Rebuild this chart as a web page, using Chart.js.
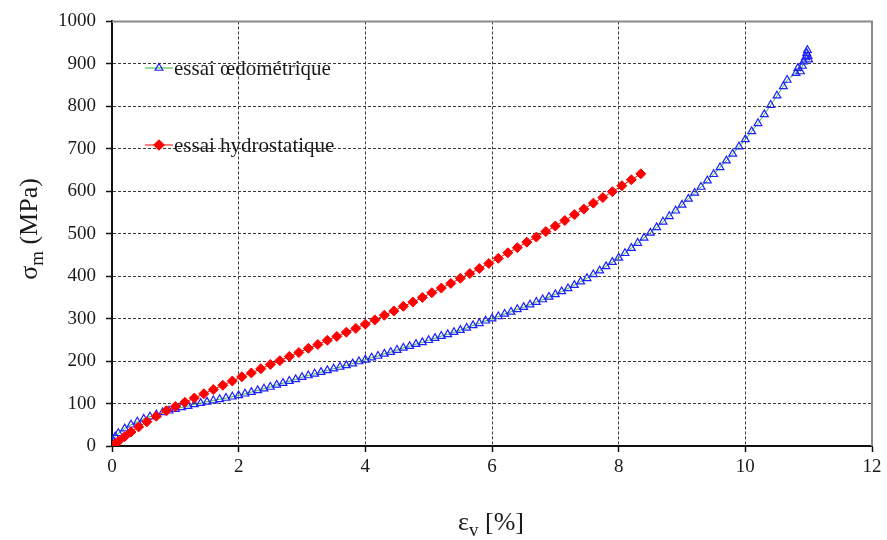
<!DOCTYPE html>
<html lang="fr">
<head>
    <meta charset="UTF-8">
    <title>Essais de compression</title>
    <script src="https://cdn.jsdelivr.net/npm/chart.js"></script>
    <style>
        body {
            margin: 0;
            background-color: #ffffff;
        }

        .wrap {
            width: 887px;
            height: 540px;
        }
    </style>
</head>
<body>
    <div class="wrap">
        <canvas id="sigmaChart"></canvas>
    </div>

    <script>
        // essai hydrostatique : deformation volumique (%) / contrainte moyenne (MPa)
        const hydroStrain = [0, 0.05, 0.1, 0.2, 0.3, 0.42, 0.55, 0.7, 0.86,
            1.0, 1.15, 1.3, 1.45, 1.6, 1.75, 1.9, 2.05, 2.2, 2.35,
            2.5, 2.65, 2.8, 2.95, 3.1, 3.25, 3.4, 3.55, 3.7, 3.85,
            4.0, 4.15, 4.3, 4.45, 4.6, 4.75, 4.9, 5.05, 5.2, 5.35,
            5.5, 5.65, 5.8, 5.95, 6.1, 6.25, 6.4, 6.55, 6.7, 6.85,
            7.0, 7.15, 7.3, 7.45, 7.6, 7.75, 7.9, 8.05, 8.2, 8.35];
        const hydroStress = [0, 5, 11, 22, 33, 45, 57, 70, 83,
            93, 103, 113, 123, 133, 143, 153, 163, 172, 182,
            192, 201, 211, 220, 230, 239, 249, 258, 268, 277,
            287, 297, 308, 318, 329, 339, 350, 361, 372, 383,
            395, 406, 418, 430, 442, 455, 467, 480, 492, 505,
            518, 531, 545, 558, 572, 585, 599, 613, 627, 641];

        // essai oedometrique
        const oedoStrain = [0, 0.02, 0.05,
            0.1, 0.2, 0.3, 0.4, 0.5, 0.6, 0.7, 0.8, 0.9, 1.0,
            1.1, 1.2, 1.3, 1.4, 1.5, 1.6, 1.7, 1.8, 1.9, 2.0,
            2.1, 2.2, 2.3, 2.4, 2.5, 2.6, 2.7, 2.8, 2.9, 3.0,
            3.1, 3.2, 3.3, 3.4, 3.5, 3.6, 3.7, 3.8, 3.9, 4.0,
            4.1, 4.2, 4.3, 4.4, 4.5, 4.6, 4.7, 4.8, 4.9, 5.0,
            5.1, 5.2, 5.3, 5.4, 5.5, 5.6, 5.7, 5.8, 5.9, 6.0,
            6.1, 6.2, 6.3, 6.4, 6.5, 6.6, 6.7, 6.8, 6.9, 7.0,
            7.1, 7.2, 7.3, 7.4, 7.5, 7.6, 7.7, 7.8, 7.9, 8.0,
            8.1, 8.2, 8.3, 8.4, 8.5, 8.6, 8.7, 8.8, 8.9, 9.0,
            9.1, 9.2, 9.3, 9.4, 9.5, 9.6, 9.7, 9.8, 9.9, 10.0,
            10.1, 10.2, 10.3, 10.4, 10.5, 10.6,
            10.66, 10.8, 10.83, 10.87, 10.9, 10.92, 10.95, 10.97, 10.98, 10.99, 11.0];
        const oedoStress = [0, 12, 22,
            30, 41, 50, 57, 64, 69, 74, 79, 83, 87,
            91, 94, 98, 101, 104, 107, 110, 113, 116, 119,
            123, 127, 131, 135, 139, 144, 148, 153, 157, 162,
            166, 170, 174, 178, 182, 186, 190, 194, 199, 203,
            208, 212, 217, 221, 226, 231, 235, 240, 244, 249,
            254, 259, 263, 268, 273, 278, 284, 289, 295, 300,
            305, 311, 316, 322, 327, 333, 339, 345, 351, 357,
            364, 371, 379, 387, 395, 404, 413, 423, 433, 443,
            454, 466, 478, 490, 502, 515, 528, 541, 554, 568,
            582, 596, 610, 625, 640, 656, 672, 688, 705, 722,
            741, 760, 781, 803, 825, 847,
            862, 878, 890, 882, 895, 905, 915, 925, 932, 918, 910];

        const xTicks = [0, 2, 4, 6, 8, 10, 12];
        const yTicks = [0, 100, 200, 300, 400, 500, 600, 700, 800, 900, 1000];

        const serif = '"Liberation Serif", "Times New Roman", serif';

        function toPoints(xs, ys) {
            return xs.map((x, i) => ({ x: x, y: ys[i] }));
        }

        // text with a subscript part, centred on x
        function drawSubText(ctx, parts, x, y, size) {
            const big = size + 'px ' + serif;
            const small = Math.round(size * 0.72) + 'px ' + serif;
            let w = 0;
            parts.forEach(([t, sub]) => {
                ctx.font = sub ? small : big;
                w += ctx.measureText(t).width;
            });
            let cx = x - w / 2;
            ctx.textAlign = 'left';
            ctx.textBaseline = 'alphabetic';
            parts.forEach(([t, sub]) => {
                ctx.font = sub ? small : big;
                ctx.fillText(t, cx, y + (sub ? size * 0.22 : 0));
                cx += ctx.measureText(t).width;
            });
        }

        const decorations = {
            id: 'decorations',
            beforeDatasetsDraw(chart) {
                const { ctx, chartArea: a } = chart;
                ctx.save();
                ctx.strokeStyle = '#8a8a8a';
                ctx.lineWidth = 2;
                ctx.beginPath();
                ctx.moveTo(a.left, a.top);
                ctx.lineTo(a.right, a.top);
                ctx.lineTo(a.right, a.bottom);
                ctx.stroke();
                ctx.restore();
            },
            afterDraw(chart) {
                const ctx = chart.ctx;
                ctx.save();
                ctx.fillStyle = '#1a1a1a';

                // axis titles
                drawSubText(ctx, [['\u03b5', false], ['v', true], [' [%]', false]], 491, 530, 26);
                ctx.translate(37, 229);
                ctx.rotate(-Math.PI / 2);
                drawSubText(ctx, [['\u03c3', false], ['m', true], [' (MPa)', false]], 0, 0, 26);
                ctx.setTransform(1, 0, 0, 1, 0, 0);

                // legend
                const rows = [
                    { y: 68, line: '#33bb33', style: 'triangle', stroke: '#1f1fff', fill: 'rgba(0,0,0,0)', r: 4.5, text: 'essai \u0153dom\u00e9trique' },
                    { y: 145, line: '#ff0000', style: 'rectRot', stroke: '#ff0000', fill: '#ff0000', r: 5, text: 'essai hydrostatique' }
                ];
                rows.forEach(row => {
                    ctx.strokeStyle = row.line;
                    ctx.lineWidth = 1;
                    ctx.beginPath();
                    ctx.moveTo(145, row.y);
                    ctx.lineTo(173, row.y);
                    ctx.stroke();
                    ctx.strokeStyle = row.stroke;
                    ctx.fillStyle = row.fill;
                    ctx.lineWidth = 1.2;
                    Chart.helpers.drawPoint(ctx, { pointStyle: row.style, radius: row.r, rotation: 0, borderWidth: 1.2 }, 159, row.y);
                    ctx.fillStyle = '#1a1a1a';
                    ctx.font = '21px ' + serif;
                    ctx.textAlign = 'left';
                    ctx.textBaseline = 'middle';
                    ctx.fillText(row.text, 174, row.y + 1);
                });
                ctx.restore();
            }
        };

        const ctx = document.getElementById('sigmaChart').getContext('2d');
        new Chart(ctx, {
            type: 'scatter',
            data: {
                datasets: [{
                    label: 'essai hydrostatique',
                    data: toPoints(hydroStrain, hydroStress),
                    showLine: true,
                    borderColor: '#ff0000',
                    borderWidth: 1,
                    backgroundColor: '#ff0000',
                    pointStyle: 'rectRot',
                    pointRadius: 5,
                    pointBorderColor: '#ff0000',
                    pointBorderWidth: 1,
                    order: 0
                }, {
                    label: 'essai \u0153dom\u00e9trique',
                    data: toPoints(oedoStrain, oedoStress),
                    showLine: true,
                    borderColor: '#33bb33',
                    borderWidth: 1,
                    backgroundColor: 'rgba(0,0,0,0)',
                    pointStyle: 'triangle',
                    pointRadius: 4.5,
                    pointBorderColor: '#1f1fff',
                    pointBorderWidth: 1.2,
                    order: 1
                }]
            },
            options: {
                responsive: true,
                maintainAspectRatio: false,
                animation: false,
                layout: { padding: { top: 18, right: 15, left: 0, bottom: 0 } },
                plugins: {
                    legend: { display: false },
                    tooltip: { enabled: false }
                },
                scales: {
                    x: {
                        type: 'linear',
                        min: 0,
                        max: 12,
                        afterBuildTicks: scale => { scale.ticks = xTicks.map(v => ({ value: v })); },
                        afterFit: scale => { scale.height = 94; },
                        ticks: {
                            padding: 4,
                            color: '#1a1a1a',
                            font: { family: serif, size: 19 },
                            callback: v => String(v)
                        },
                        grid: {
                            color: c => (c.tick && c.tick.value === 12) ? 'rgba(0,0,0,0)' : '#3a3a3a',
                            lineWidth: 1,
                            tickLength: 6,
                            tickColor: '#111111',
                            tickWidth: 1.5
                        },
                        border: { color: '#111111', width: 2, dash: [3, 2] }
                    },
                    y: {
                        type: 'linear',
                        min: 0,
                        max: 1000,
                        afterBuildTicks: scale => { scale.ticks = yTicks.map(v => ({ value: v })); },
                        afterFit: scale => { scale.width = 112; },
                        ticks: {
                            padding: 10,
                            color: '#1a1a1a',
                            font: { family: serif, size: 19 },
                            callback: v => String(v)
                        },
                        grid: {
                            color: c => (c.tick && c.tick.value === 1000) ? 'rgba(0,0,0,0)' : '#3a3a3a',
                            lineWidth: 1,
                            tickLength: 6,
                            tickColor: '#111111',
                            tickWidth: 1.5
                        },
                        border: { color: '#111111', width: 2, dash: [3, 2] }
                    }
                }
            },
            plugins: [decorations]
        });
    </script>
</body>
</html>
